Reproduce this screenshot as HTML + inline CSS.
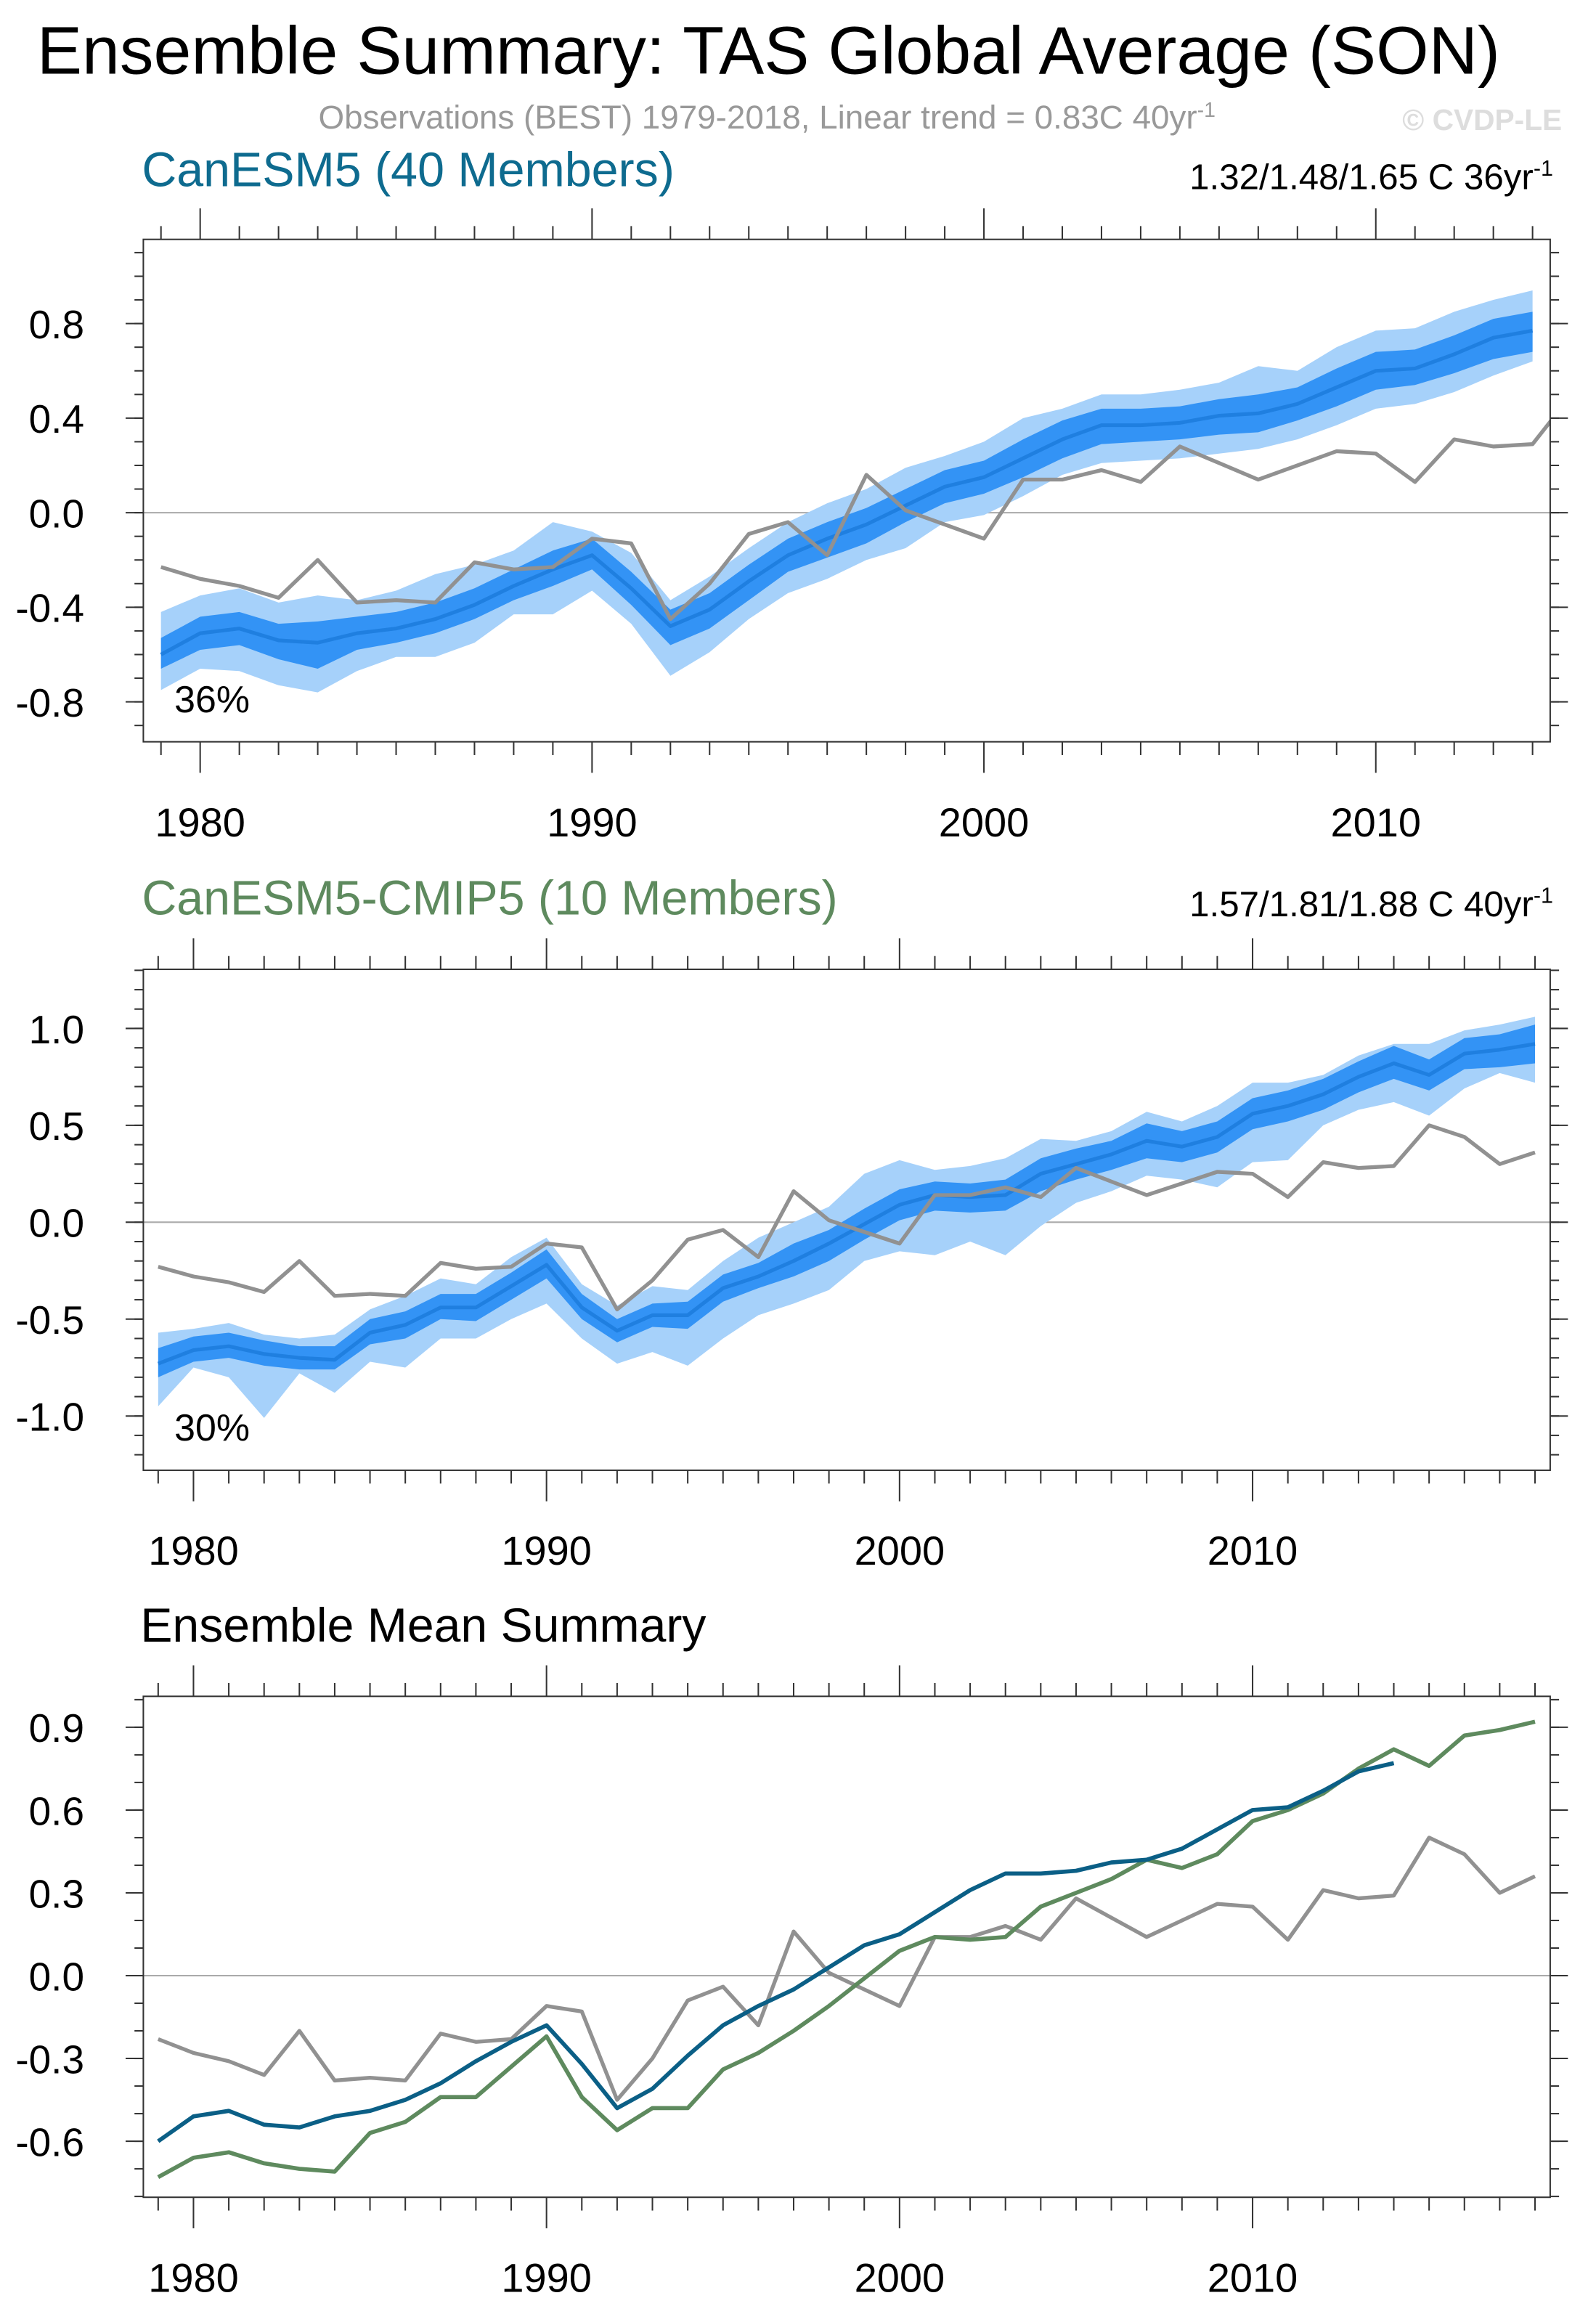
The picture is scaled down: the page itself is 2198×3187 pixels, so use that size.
<!DOCTYPE html>
<html><head><meta charset="utf-8">
<style>
html,body{margin:0;padding:0;background:#fff;}
svg{display:block;font-family:"Liberation Sans",Arial,sans-serif;}
</style></head>
<body>
<svg id="chart" xmlns="http://www.w3.org/2000/svg" width="2198" height="3187" viewBox="0 0 1080 1566" preserveAspectRatio="none">
<text x="25" y="50" font-size="45.8" fill="#000">Ensemble Summary: TAS Global Average (SON)</text>
<text x="519" y="87" font-size="22.5" fill="#999" text-anchor="middle">Observations (BEST) 1979-2018, Linear trend = 0.83C 40yr<tspan dy="-8" font-size="14">-1</tspan></text>
<text x="1057" y="88" font-size="20" fill="#ddd" font-weight="bold" text-anchor="end">© CVDP-LE</text>
<text x="96" y="126" font-size="32.6" fill="#0e6b8f">CanESM5 (40 Members)</text>
<text x="1051" y="128" font-size="24.2" fill="#000" text-anchor="end">1.32/1.48/1.65 C 36yr<tspan dy="-9" font-size="15">-1</tspan></text>
<text x="96" y="619" font-size="32.6" fill="#5e8a5e">CanESM5-CMIP5 (10 Members)</text>
<text x="1051" y="620" font-size="24.2" fill="#000" text-anchor="end">1.57/1.81/1.88 C 40yr<tspan dy="-9" font-size="15">-1</tspan></text>
<text x="95" y="1111" font-size="32.5" fill="#000">Ensemble Mean Summary</text>
</svg>
<script>
const obsYears0 = 1979;
const obsValues = [-0.23,-0.28,-0.31,-0.36,-0.20,-0.38,-0.37,-0.38,-0.21,-0.24,-0.23,-0.11,-0.13,-0.45,-0.30,-0.09,-0.04,-0.18,0.16,0.01,-0.05,-0.11,0.14,0.14,0.18,0.13,0.28,0.21,0.14,0.20,0.26,0.25,0.13,0.31,0.28,0.29,0.50,0.44,0.30,0.36];
const m1Mean = [-0.60,-0.51,-0.49,-0.54,-0.55,-0.51,-0.49,-0.45,-0.39,-0.31,-0.24,-0.18,-0.32,-0.48,-0.41,-0.29,-0.18,-0.11,-0.05,0.03,0.11,0.15,0.23,0.31,0.37,0.37,0.38,0.41,0.42,0.46,0.53,0.60,0.61,0.67,0.74,0.77];
const m1InLo = [-0.66,-0.58,-0.56,-0.62,-0.66,-0.58,-0.55,-0.51,-0.45,-0.37,-0.31,-0.24,-0.39,-0.56,-0.49,-0.37,-0.25,-0.19,-0.13,-0.04,0.04,0.08,0.15,0.23,0.29,0.30,0.31,0.33,0.34,0.39,0.45,0.52,0.54,0.59,0.65,0.68];
const m1InHi = [-0.53,-0.44,-0.42,-0.47,-0.46,-0.44,-0.42,-0.38,-0.32,-0.24,-0.16,-0.11,-0.25,-0.41,-0.34,-0.22,-0.11,-0.04,0.02,0.10,0.18,0.22,0.31,0.39,0.44,0.44,0.45,0.48,0.50,0.53,0.61,0.68,0.69,0.75,0.82,0.85];
const m1OutLo = [-0.75,-0.66,-0.67,-0.73,-0.76,-0.67,-0.61,-0.61,-0.55,-0.43,-0.43,-0.33,-0.47,-0.69,-0.59,-0.45,-0.34,-0.28,-0.20,-0.15,-0.04,-0.01,0.07,0.16,0.21,0.22,0.23,0.25,0.27,0.31,0.37,0.44,0.46,0.51,0.58,0.64];
const m1OutHi = [-0.42,-0.35,-0.32,-0.38,-0.35,-0.37,-0.33,-0.26,-0.22,-0.16,-0.04,-0.08,-0.17,-0.37,-0.27,-0.15,-0.04,0.04,0.10,0.19,0.24,0.30,0.40,0.44,0.50,0.50,0.52,0.55,0.62,0.60,0.70,0.77,0.78,0.85,0.90,0.94];
const m2Mean = [-0.73,-0.66,-0.64,-0.68,-0.70,-0.71,-0.57,-0.53,-0.44,-0.44,-0.33,-0.22,-0.44,-0.56,-0.48,-0.48,-0.34,-0.28,-0.20,-0.11,-0.01,0.09,0.14,0.13,0.14,0.25,0.30,0.35,0.42,0.39,0.44,0.56,0.60,0.66,0.75,0.82,0.76,0.87,0.89,0.92];
const m2InLo = [-0.80,-0.72,-0.70,-0.74,-0.76,-0.76,-0.63,-0.60,-0.50,-0.51,-0.40,-0.29,-0.50,-0.62,-0.54,-0.55,-0.41,-0.34,-0.28,-0.20,-0.09,0.01,0.06,0.05,0.06,0.16,0.22,0.27,0.33,0.31,0.36,0.48,0.52,0.58,0.67,0.74,0.68,0.79,0.80,0.82];
const m2InHi = [-0.65,-0.59,-0.57,-0.61,-0.64,-0.64,-0.50,-0.46,-0.37,-0.37,-0.26,-0.14,-0.37,-0.50,-0.42,-0.41,-0.27,-0.21,-0.11,-0.04,0.07,0.17,0.21,0.20,0.22,0.33,0.38,0.42,0.51,0.47,0.52,0.64,0.68,0.74,0.83,0.91,0.84,0.95,0.97,1.02];
const m2OutLo = [-0.95,-0.75,-0.80,-1.01,-0.78,-0.88,-0.72,-0.75,-0.60,-0.60,-0.50,-0.42,-0.60,-0.73,-0.67,-0.74,-0.60,-0.48,-0.42,-0.35,-0.20,-0.15,-0.17,-0.10,-0.17,-0.02,0.10,0.16,0.24,0.22,0.18,0.31,0.32,0.50,0.58,0.62,0.55,0.69,0.77,0.72];
const m2OutHi = [-0.57,-0.55,-0.52,-0.58,-0.60,-0.58,-0.45,-0.38,-0.29,-0.32,-0.18,-0.08,-0.32,-0.43,-0.33,-0.35,-0.20,-0.08,0.00,0.08,0.25,0.32,0.27,0.29,0.33,0.43,0.42,0.47,0.57,0.52,0.60,0.72,0.72,0.76,0.86,0.92,0.92,0.99,1.02,1.06];

const NS='http://www.w3.org/2000/svg';
const svg=document.getElementById('chart');
function mk(tag,attrs,parent){const e=document.createElementNS(NS,tag);for(const k in attrs)e.setAttribute(k,attrs[k]);(parent||svg).appendChild(e);return e;}

const panels=[
 {id:'panel1',top:162,bot:502,y0:1978.55,y1:2014.45,v0:-0.969,v1:1.156,ticks:[-0.8,-0.4,0,0.4,0.8],minor:0.1,fmt:v=>v.toFixed(1),pct:'36%'},
 {id:'panel2',top:656,bot:995,y0:1978.58,y1:2018.43,v0:-1.28,v1:1.305,ticks:[-1,-0.5,0,0.5,1],minor:0.1,fmt:v=>v.toFixed(1),pct:'30%'},
 {id:'panel3',top:1148,bot:1487,y0:1978.58,y1:2018.43,v0:-0.803,v1:1.012,ticks:[-0.6,-0.3,0,0.3,0.6,0.9],minor:0.1,fmt:v=>v.toFixed(1)}
];
const L=97,R=1049;
function axes(p){
 p.x=yr=>L+(yr-p.y0)/(p.y1-p.y0)*(R-L);
 p.y=v=>p.bot-(v-p.v0)/(p.v1-p.v0)*(p.bot-p.top);
}
panels.forEach(axes);

function line(p,vals,color,w,name,g){
 const pts=vals.map((v,i)=>p.x(obsYears0+i).toFixed(2)+','+p.y(v).toFixed(2)).join(' ');
 const el=mk('polyline',{points:pts,fill:'none',stroke:color,'stroke-width':w,'stroke-linejoin':'round','clip-path':'url(#clip-'+p.id+')'},g);
 
 
}
function band(p,lo,hi,color,name,g){
 const a=hi.map((v,i)=>p.x(obsYears0+i)+','+p.y(v));
 const b=lo.map((v,i)=>p.x(obsYears0+i)+','+p.y(v)).reverse();
 const el=mk('polygon',{points:a.concat(b).join(' '),fill:color,stroke:'none','clip-path':'url(#clip-'+p.id+')'},g);
 
 
}

const defs=mk('defs',{});
panels.forEach(p=>{
 const cp=mk('clipPath',{id:'clip-'+p.id},defs);
 mk('rect',{x:L,y:p.top,width:R-L,height:p.bot-p.top},cp);
 const g=mk('g',{});
 
 
 const z=mk('line',{x1:L,x2:R,y1:p.y(0),y2:p.y(0),stroke:'#aaa','stroke-width':1},g);
 
 
 if(p.id==='panel1'){
  band(p,m1OutLo,m1OutHi,'#a6d1fa','outer-spread-band',g);
  band(p,m1InLo,m1InHi,'#3393f5','inner-spread-band',g);
  line(p,m1Mean,'#1f7fe0',2.5,'ensemble-mean-line',g);
  line(p,obsValues,'#919191',2.6,'observations-line',g);
 } else if(p.id==='panel2'){
  band(p,m2OutLo,m2OutHi,'#a6d1fa','outer-spread-band',g);
  band(p,m2InLo,m2InHi,'#3393f5','inner-spread-band',g);
  line(p,m2Mean,'#1f7fe0',2.5,'ensemble-mean-line',g);
  line(p,obsValues,'#919191',2.6,'observations-line',g);
 } else {
  line(p,obsValues,'#919191',2.6,'observations-line',g);
  line(p,m2Mean,'#5e8a5e',2.8,'canesm5-cmip5-mean-line',g);
  line(p,m1Mean,'#0b5f86',2.8,'canesm5-mean-line',g);
 }
 const box=mk('rect',{x:L,y:p.top,width:R-L,height:p.bot-p.top,fill:'none',stroke:'#333','stroke-width':1},g);
 
 
 for(let yr=Math.ceil(p.y0);yr<=Math.floor(p.y1);yr++){
  const x=p.x(yr),maj=yr%10===0,len=maj?21:9;
  mk('line',{x1:x,x2:x,y1:p.top,y2:p.top-len,stroke:'#333','stroke-width':1},g);
  mk('line',{x1:x,x2:x,y1:p.bot,y2:p.bot+len,stroke:'#333','stroke-width':1},g);
  if(maj){
   const t=mk('text',{x:x,y:p.bot+64,'font-size':27.5,'text-anchor':'middle',fill:'#000'},g);
   t.textContent=yr;
   
   
  }
 }
 for(let v=Math.ceil(p.v0/p.minor)*p.minor;v<=p.v1;v+=p.minor){
  const y=p.y(v);
  mk('line',{x1:L,x2:L-6,y1:y,y2:y,stroke:'#333','stroke-width':1},g);
  mk('line',{x1:R,x2:R+6,y1:y,y2:y,stroke:'#333','stroke-width':1},g);
 }
 p.ticks.forEach(v=>{
  const y=p.y(v);
  mk('line',{x1:L,x2:L-12,y1:y,y2:y,stroke:'#333','stroke-width':1},g);
  mk('line',{x1:R,x2:R+12,y1:y,y2:y,stroke:'#333','stroke-width':1},g);
  const t=mk('text',{x:57,y:y+10,'font-size':27,'text-anchor':'end',fill:'#000'},g);
  t.textContent=p.fmt(v);
  
  
 });
 if(p.pct){
  const t=mk('text',{x:118,y:p.bot-20,'font-size':25.5,fill:'#000'},g);
  t.textContent=p.pct;
  
  
 }
});
</script>
</body></html>
